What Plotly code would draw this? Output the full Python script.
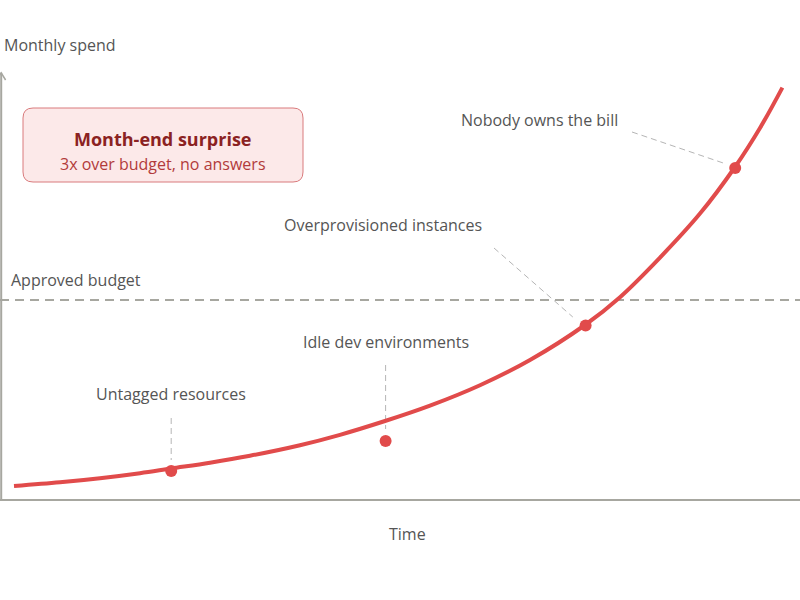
import plotly.graph_objects as go

# ---- data (time 0..100, spend in arbitrary units; budget = 50) ----
curve_time = [1.75, 7.5, 12.5, 17.5, 21.375, 26.25, 31.25, 37.5, 42.5, 48.125,
              53.75, 60.0, 66.25, 73.125, 77.5, 82.5, 87.5, 91.875, 95.0, 97.8]
curve_spend = [3.5, 4.43, 5.45, 6.7, 7.875, 9.33, 11.07, 13.7, 16.3, 19.75,
               23.6, 28.7, 35.0, 43.75, 50.7, 60.6, 71.6, 83.25, 93.0, 103.1]

event_labels = ["Untagged resources", "Idle dev environments",
                "Overprovisioned instances", "Nobody owns the bill"]
event_time = [21.4, 48.2, 73.2, 91.9]
event_spend = [7.25, 14.75, 43.6, 83.0]
label_time = [21.4, 48.2, 47.9, 67.4]
label_spend = [26.5, 39.5, 68.75, 95.0]
leader_start_time = [21.4, 48.2, 61.75, 79.0]
leader_start_spend = [20.5, 33.75, 63.0, 92.0]
leader_end_time = [21.4, 48.2, 71.6, 90.4]
leader_end_spend = [10.0, 17.75, 45.75, 84.25]

budget = 50
budget_label = "Approved budget"
x_title = "Time"
y_title = "Monthly spend"
box_title = "Month-end surprise"
box_subtitle = "3x over budget, no answers"

X_RANGE = [0, 100]
Y_RANGE = [0, 107.5]

RED = "#e14b4b"
GRAY_TXT = "#555555"
AXIS = "#a7a7a0"
FONT = "Open Sans"

fig = go.Figure()

fig.add_trace(go.Scatter(
    x=curve_time, y=curve_spend, mode="lines",
    line=dict(color=RED, width=4, shape="spline", smoothing=1.0),
    hoverinfo="skip", showlegend=False))

fig.add_trace(go.Scatter(
    x=event_time, y=event_spend, mode="markers",
    marker=dict(color=RED, size=12),
    hoverinfo="skip", showlegend=False))

shapes = []
# axes
shapes.append(dict(type="line", xref="paper", yref="paper", x0=0, x1=1, y0=0, y1=0,
                   line=dict(color=AXIS, width=2)))
shapes.append(dict(type="line", xref="x", yref="y", x0=0.15, x1=0.15, y0=0, y1=106.8,
                   line=dict(color=AXIS, width=2)))
shapes.append(dict(type="path", xref="x", yref="y",
                   path="M -0.5,105.0 L 0.15,106.8 L 0.7,105.0",
                   line=dict(color=AXIS, width=1.5)))
# budget line
shapes.append(dict(type="line", xref="paper", yref="y", x0=0, x1=1, y0=budget, y1=budget,
                   line=dict(color=AXIS, width=2, dash="9px,6px"), layer="below"))
# leaders
for xs, ys, xe, ye in zip(leader_start_time, leader_start_spend, leader_end_time, leader_end_spend):
    shapes.append(dict(type="line", xref="x", yref="y", x0=xs, y0=ys, x1=xe, y1=ye,
                       line=dict(color="#b5b5b5", width=1, dash="6px,4px"), layer="below"))
# rounded box
bx0, bx1, by0, by1 = 2.875, 37.875, 79.5, 98.0
rx, ry = 1.25, 2.5
path = (f"M {bx0+rx},{by1} L {bx1-rx},{by1} Q {bx1},{by1} {bx1},{by1-ry} "
        f"L {bx1},{by0+ry} Q {bx1},{by0} {bx1-rx},{by0} "
        f"L {bx0+rx},{by0} Q {bx0},{by0} {bx0},{by0+ry} "
        f"L {bx0},{by1-ry} Q {bx0},{by1} {bx0+rx},{by1} Z")
shapes.append(dict(type="path", xref="x", yref="y", path=path,
                   fillcolor="#fce9e9", line=dict(color="#d97a7c", width=1), layer="below"))

annotations = []
for lab, lx, ly in zip(event_labels, label_time, label_spend):
    annotations.append(dict(x=lx, y=ly, xref="x", yref="y", text=lab, showarrow=False,
                            font=dict(family=FONT, size=16, color=GRAY_TXT),
                            xanchor="center", yanchor="middle"))
annotations.append(dict(x=1.1, y=55, xref="x", yref="y", text=budget_label, showarrow=False,
                        font=dict(family=FONT, size=16, color=GRAY_TXT),
                        xanchor="left", yanchor="middle"))
annotations.append(dict(x=(bx0 + bx1) / 2, y=90.25, xref="x", yref="y",
                        text=f"<b>{box_title}</b>", showarrow=False,
                        font=dict(family=FONT, size=18, color="#8b2222"),
                        xanchor="center", yanchor="middle"))
annotations.append(dict(x=(bx0 + bx1) / 2, y=84.0, xref="x", yref="y",
                        text=box_subtitle, showarrow=False,
                        font=dict(family=FONT, size=16, color="#b23b3b"),
                        xanchor="center", yanchor="middle"))
# axis titles (paper coords: plot area spans y 70..500 px, x 0..800 px)
annotations.append(dict(x=0.0025, y=(500 - 45) / 430, xref="paper", yref="paper",
                        text=y_title, showarrow=False,
                        font=dict(family=FONT, size=16, color=GRAY_TXT),
                        xanchor="left", yanchor="middle"))
annotations.append(dict(x=407 / 800, y=(500 - 534) / 430, xref="paper", yref="paper",
                        text=x_title, showarrow=False,
                        font=dict(family=FONT, size=16, color=GRAY_TXT),
                        xanchor="center", yanchor="middle"))

fig.update_layout(
    width=800, height=600,
    margin=dict(l=0, r=0, t=70, b=100),
    paper_bgcolor="white", plot_bgcolor="white",
    xaxis=dict(range=X_RANGE, visible=False, fixedrange=True),
    yaxis=dict(range=Y_RANGE, visible=False, fixedrange=True),
    shapes=shapes, annotations=annotations,
    showlegend=False,
)

fig.write_html("out.html")
